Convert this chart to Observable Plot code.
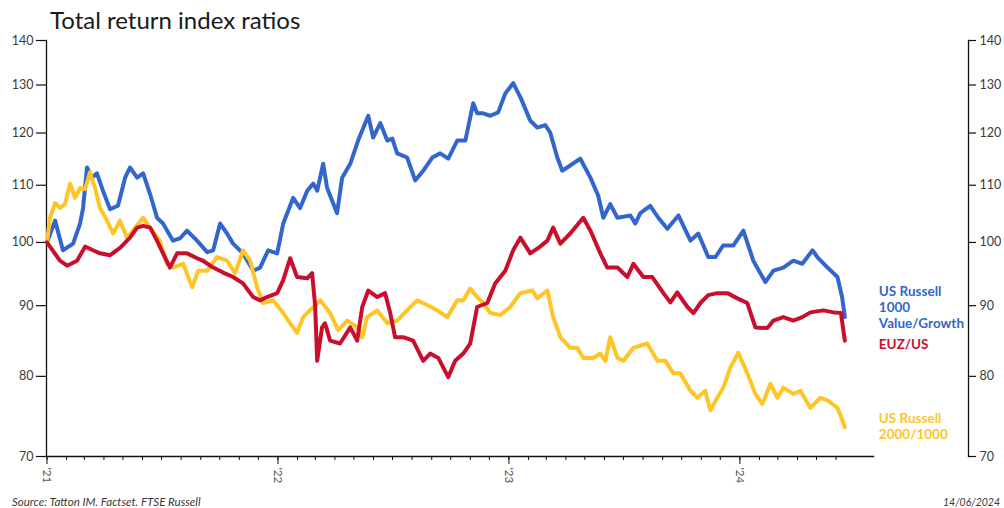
<!DOCTYPE html>
<html>
<head>
<meta charset="utf-8">
<script src="https://cdn.jsdelivr.net/npm/d3@7"></script>
<script src="https://cdn.jsdelivr.net/npm/@observablehq/plot@0.6"></script>
<style>
  html, body { margin: 0; padding: 0; background: #fff; }
  #wrap { position: relative; width: 1004px; height: 508px; overflow: hidden; font-family: Lato, "Open Sans", sans-serif; }
  #title { position: absolute; left: 50px; top: 8px; font-size: 24px; line-height: 1; color: #1a1a1a; }
  #chart { position: absolute; left: 0; top: 0; }
  #source { position: absolute; left: 12px; top: 495px; font-size: 11.5px; font-style: italic; color: #3a3a3a; }
  #date { position: absolute; right: 4px; top: 496px; font-size: 10.5px; font-style: italic; color: #3a3a3a; }
</style>
</head>
<body>
<div id="wrap">
  <div id="chart"></div>
  <div id="title">Total return index ratios</div>
  <div id="source">Source: Tatton IM. Factset. FTSE Russell</div>
  <div id="date">14/06/2024</div>
</div>
<script>
// ---- data: [fractional year, index value] ----
const valueGrowth = [
  [2021.000,100.0],[2021.035,103.7],[2021.069,98.7],[2021.113,99.8],[2021.143,103.2],[2021.156,105.9],
  [2021.173,113.3],[2021.195,111.4],[2021.216,112.2],[2021.242,109.0],[2021.273,105.7],[2021.307,106.3],
  [2021.338,111.4],[2021.359,113.3],[2021.390,111.4],[2021.416,112.2],[2021.446,108.4],[2021.476,104.2],
  [2021.502,103.2],[2021.545,100.3],[2021.576,100.7],[2021.606,102.0],[2021.649,100.3],[2021.693,98.4],
  [2021.719,98.7],[2021.749,103.2],[2021.779,101.5],[2021.805,99.8],[2021.848,98.2],[2021.892,95.4],
  [2021.922,95.9],[2021.957,98.7],[2021.996,98.2],[2022.022,103.2],[2022.065,107.7],[2022.095,105.9],
  [2022.126,109.0],[2022.152,110.3],[2022.169,109.0],[2022.195,114.0],[2022.212,109.5],[2022.255,105.0],
  [2022.277,111.4],[2022.312,114.0],[2022.346,118.5],[2022.390,123.5],[2022.411,119.1],[2022.442,122.0],
  [2022.472,118.5],[2022.494,118.9],[2022.515,116.0],[2022.558,115.2],[2022.593,110.9],[2022.628,112.7],
  [2022.667,115.2],[2022.701,116.0],[2022.736,115.0],[2022.775,118.5],[2022.810,118.5],[2022.844,126.1],
  [2022.861,124.0],[2022.887,124.0],[2022.918,123.5],[2022.952,124.2],[2022.983,128.2],[2023.017,130.4],
  [2023.048,127.4],[2023.091,122.5],[2023.121,121.1],[2023.156,121.6],[2023.177,120.1],[2023.208,115.2],
  [2023.229,112.7],[2023.251,113.3],[2023.307,115.0],[2023.351,111.4],[2023.385,108.1],[2023.407,104.2],
  [2023.437,106.6],[2023.468,104.2],[2023.524,104.6],[2023.545,103.2],[2023.567,105.0],[2023.610,106.3],
  [2023.645,104.2],[2023.684,102.3],[2023.732,104.6],[2023.784,100.3],[2023.818,101.5],[2023.861,97.6],
  [2023.892,97.6],[2023.926,99.5],[2023.970,99.5],[2024.013,102.0],[2024.056,97.0],[2024.108,93.6],
  [2024.143,95.4],[2024.186,95.9],[2024.229,97.0],[2024.268,96.5],[2024.312,98.7],[2024.333,97.6],
  [2024.377,95.9],[2024.420,94.4],[2024.440,91.3],[2024.452,88.3]
];
const euzUs = [
  [2021.000,100.0],[2021.013,99.3],[2021.056,97.0],[2021.087,96.2],[2021.130,97.0],[2021.165,99.3],
  [2021.199,98.7],[2021.229,98.2],[2021.273,97.9],[2021.316,99.1],[2021.359,100.8],[2021.390,102.5],
  [2021.416,102.8],[2021.446,102.5],[2021.476,100.3],[2021.502,98.2],[2021.532,95.9],[2021.563,98.2],
  [2021.606,98.2],[2021.649,97.4],[2021.675,97.0],[2021.719,95.9],[2021.762,95.1],[2021.805,94.4],
  [2021.848,93.4],[2021.892,91.3],[2021.922,90.8],[2021.952,91.3],[2021.996,91.9],[2022.022,93.9],
  [2022.052,97.4],[2022.082,94.4],[2022.126,94.2],[2022.147,95.0],[2022.160,90.1],[2022.169,82.1],
  [2022.190,86.8],[2022.203,87.4],[2022.225,84.9],[2022.268,84.5],[2022.312,86.8],[2022.342,84.9],
  [2022.364,89.8],[2022.390,92.3],[2022.429,91.3],[2022.463,91.9],[2022.485,88.9],[2022.506,85.4],
  [2022.541,85.4],[2022.584,84.9],[2022.628,82.1],[2022.658,83.1],[2022.693,82.5],[2022.736,79.9],
  [2022.766,82.1],[2022.801,83.1],[2022.831,84.5],[2022.861,89.8],[2022.905,90.4],[2022.939,93.4],
  [2022.983,95.4],[2023.017,98.7],[2023.048,100.8],[2023.091,98.2],[2023.134,99.3],[2023.165,100.3],
  [2023.190,102.5],[2023.221,99.8],[2023.264,101.5],[2023.320,104.2],[2023.351,102.0],[2023.394,98.2],
  [2023.424,95.9],[2023.468,95.9],[2023.511,94.4],[2023.537,96.5],[2023.580,94.4],[2023.619,94.4],
  [2023.667,91.9],[2023.697,90.5],[2023.727,92.0],[2023.771,89.8],[2023.797,88.9],[2023.827,90.4],
  [2023.861,91.6],[2023.900,91.9],[2023.944,91.9],[2023.987,91.1],[2024.030,90.4],[2024.065,86.8],
  [2024.117,86.7],[2024.143,87.8],[2024.186,88.3],[2024.229,87.8],[2024.268,88.3],[2024.303,89.0],
  [2024.359,89.3],[2024.403,89.0],[2024.435,88.9],[2024.452,84.9]
];
const smallLarge = [
  [2021.000,100.0],[2021.013,104.2],[2021.035,106.8],[2021.056,105.9],[2021.078,106.6],[2021.100,110.3],
  [2021.121,107.7],[2021.143,109.5],[2021.165,109.3],[2021.186,112.4],[2021.208,109.5],[2021.229,105.9],
  [2021.260,103.7],[2021.286,101.5],[2021.316,103.7],[2021.346,100.8],[2021.372,102.0],[2021.416,104.2],
  [2021.446,102.5],[2021.489,100.3],[2021.519,96.5],[2021.545,95.9],[2021.589,96.5],[2021.628,92.8],
  [2021.654,95.4],[2021.693,95.4],[2021.736,97.6],[2021.779,97.0],[2021.814,95.0],[2021.848,98.7],
  [2021.879,97.0],[2021.909,92.8],[2021.935,90.4],[2021.978,90.8],[2022.022,88.9],[2022.052,87.4],
  [2022.082,86.0],[2022.108,88.3],[2022.152,89.8],[2022.182,90.8],[2022.225,88.9],[2022.260,86.4],
  [2022.299,87.8],[2022.342,86.8],[2022.364,85.4],[2022.385,88.3],[2022.429,89.3],[2022.472,87.4],
  [2022.515,87.8],[2022.558,89.3],[2022.602,90.8],[2022.645,90.1],[2022.688,89.3],[2022.732,88.3],
  [2022.775,90.8],[2022.801,90.8],[2022.831,92.6],[2022.861,91.3],[2022.887,90.4],[2022.918,88.9],
  [2022.961,88.6],[2023.004,89.8],[2023.048,91.9],[2023.100,92.3],[2023.121,91.1],[2023.165,92.3],
  [2023.190,88.3],[2023.221,85.4],[2023.264,83.9],[2023.294,83.9],[2023.320,82.5],[2023.364,82.5],
  [2023.394,83.1],[2023.416,82.1],[2023.437,85.4],[2023.468,82.5],[2023.494,82.1],[2023.537,83.9],
  [2023.597,84.5],[2023.641,82.1],[2023.675,82.1],[2023.710,80.4],[2023.740,80.4],[2023.784,78.1],
  [2023.814,77.2],[2023.848,78.1],[2023.870,75.6],[2023.900,77.2],[2023.926,78.5],[2023.957,81.2],
  [2023.991,83.2],[2024.030,80.4],[2024.065,77.7],[2024.095,76.4],[2024.130,79.0],[2024.160,77.2],
  [2024.186,78.5],[2024.229,77.7],[2024.260,78.1],[2024.303,75.9],[2024.346,77.2],[2024.381,76.8],
  [2024.420,75.9],[2024.437,74.7],[2024.452,73.5]
];
const seriesNames = ["US Russell\n1000\nValue/Growth", "EUZ/US", "US Russell\n2000/1000"];
const seriesColors = ["#3366cc", "#c8102e", "#ffc425"];
const yTicks = [70, 80, 90, 100, 110, 120, 130, 140];
const yearTicks = ["2021-01-01", "2022-01-01", "2023-01-01", "2024-01-01"];
const yearLabels = ["'21", "'22", "'23", "'24"];
const xStart = "2021-01-01";
const xAxisEnd = "2024-08-01";
const lastMonthTick = "2024-06-01";

// ---- build ----
const toDate = t => new Date(Date.UTC(2021, 0, 1) + (t - 2021) * 365.25 * 864e5);
const allSeries = [valueGrowth, euzUs, smallLarge];
const rows = allSeries.map((s, i) => s.map(([t, v]) => ({date: toDate(t), value: v, series: seriesNames[i]})));
const months = d3.utcMonth.range(new Date(xStart), d3.utcDay.offset(new Date(lastMonthTick), 1));
const years = yearTicks.map(d => new Date(d));
const font = "Lato, 'Open Sans', sans-serif";
const axisInk = "#111";
const labelInk = "#3a3a3a";
const labelDy = [-10, 3, -1];

const chart = Plot.plot({
  width: 1004,
  height: 490,
  marginLeft: 46,
  marginRight: 36,
  marginTop: 40,
  marginBottom: 34,
  style: {fontFamily: font, background: "transparent", overflow: "visible"},
  x: {type: "utc", domain: [new Date(xStart), new Date("2025-01-01")], range: [46.5, 971]},
  y: {type: "log", domain: [70, 140]},
  marks: [
    Plot.frame({anchor: "left", stroke: axisInk, strokeWidth: 1.3}),
    Plot.frame({anchor: "right", stroke: axisInk, strokeWidth: 1.3}),
    Plot.ruleY([70], {x1: new Date(xStart), x2: new Date(xAxisEnd), stroke: axisInk, strokeWidth: 1.3}),
    // y tick marks (labels drawn separately so the log scale does not thin them)
    Plot.axisY({anchor: "left", ticks: yTicks, tickFormat: () => "", tickSize: 10, stroke: axisInk, strokeWidth: 1.2, label: null}),
    Plot.axisY({anchor: "right", ticks: yTicks, tickFormat: () => "", tickSize: 7, stroke: axisInk, strokeWidth: 1.2, label: null}),
    Plot.text(yTicks, {y: d => d, text: d => String(d), frameAnchor: "left", textAnchor: "end", dx: -13,
      fontSize: 12.5, fill: labelInk}),
    Plot.text(yTicks, {y: d => d, text: d => String(d), frameAnchor: "right", textAnchor: "start", dx: 11,
      fontSize: 12.5, fill: labelInk}),
    Plot.axisX({ticks: months, tickFormat: () => "", tickSize: 4, stroke: axisInk, label: null}),
    Plot.axisX({ticks: years, tickFormat: (d, i) => yearLabels[i], tickSize: 8, tickPadding: 3, tickRotate: 90,
      fontSize: 11.5, color: "#555", stroke: axisInk, label: null}),
    Plot.line(rows[0], {x: "date", y: "value", stroke: seriesColors[0], strokeWidth: 4, strokeLinejoin: "round"}),
    Plot.line(rows[2], {x: "date", y: "value", stroke: seriesColors[2], strokeWidth: 4, strokeLinejoin: "round"}),
    Plot.line(rows[1], {x: "date", y: "value", stroke: seriesColors[1], strokeWidth: 4, strokeLinejoin: "round"}),
    ...rows.map((r, i) => Plot.text(r, Plot.selectLast({
      x: "date", y: "value", text: "series", fill: seriesColors[i], dx: 34, dy: labelDy[i],
      textAnchor: "start", fontWeight: "bold", fontSize: 13.5, lineHeight: 1.2
    })))
  ]
});
document.getElementById("chart").appendChild(chart);
</script>
</body>
</html>
